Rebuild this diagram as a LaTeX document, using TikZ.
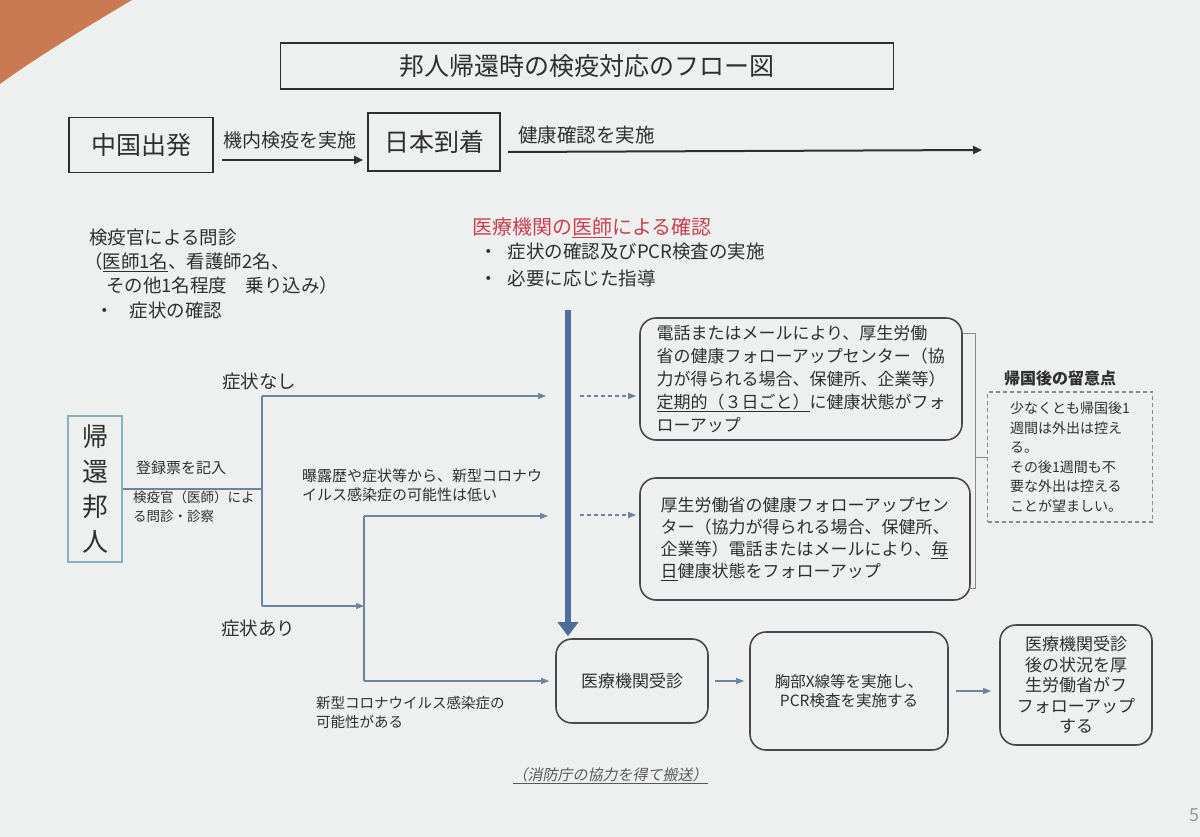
\documentclass[tikz,border=0pt]{standalone}
\usepackage{fontspec}
\setmainfont{Noto Sans CJK JP}
\newfontfamily\slnt[FakeSlant=0.2]{Noto Sans CJK JP}
\usetikzlibrary{arrows.meta}
\definecolor{ink}{HTML}{2F2F2F}
\definecolor{page}{HTML}{EEF0EF}
\definecolor{desk}{HTML}{C97A52}
\definecolor{flow}{HTML}{6E83A0}
\definecolor{barc}{HTML}{4F6E9B}
\definecolor{redt}{HTML}{C8404F}
\definecolor{edgec}{HTML}{4A4650}
\definecolor{tealc}{HTML}{8AB0C0}
\definecolor{brk}{HTML}{8A8A8A}
\newcommand\fz[2]{\fontsize{#1}{#2}\selectfont}
\tikzset{
  sq/.style={draw=ink, line width=1.8pt, inner sep=0, text=ink},
  rbox/.style={draw=edgec, line width=1.6pt, rounded corners=16pt, inner sep=0, text=ink},
  flowln/.style={draw=flow, line width=1.1pt},
  flowar/.style={flowln, -{Triangle[length=8pt,width=6pt]}},
  dflow/.style={flowar, dash pattern=on 4pt off 3pt},
  lbl/.style={text=ink, inner sep=0, anchor=west, align=left},
  bigar/.style={draw=ink, line width=2pt, -{Triangle[length=9pt,width=8pt]}},
}
\begin{document}
\begin{tikzpicture}[x=1pt,y=-1pt]
\useasboundingbox (0,0) rectangle (1200,837);
\fill[page] (0,0) rectangle (1200,837);
\fill[desk] (0,0) -- (132,0) .. controls (90,25) and (40,55) .. (0,84) -- cycle;

% title
\node[sq, minimum width=613, minimum height=46, font={\fz{25}{30}}] (title) at (587,66) {邦人帰還時の検疫対応のフロー図};

% top row
\node[sq, minimum width=144, minimum height=55, font={\fz{25}{30}}] (chugoku) at (141,145) {中国出発};
\node[sq, minimum width=132, minimum height=58, font={\fz{25}{30}}] (nichi) at (434,142) {日本到着};
\coordinate (a1) at (222,160);
\draw[bigar] (a1) -- (a1 -| nichi.west) [shorten >=4pt];
\node[lbl, font={\fz{19}{23}}] (l1) at (223,140) {機内検疫を実施};
\coordinate (a2s) at (508,152);
\coordinate (a2e) at (982,150);
\draw[bigar] (a2s) -- (a2e);
\node[lbl, font={\fz{19.5}{23}}] (l2) at (518,135) {健康確認を実施};

% left text block
\node[lbl, font={\fz{18.5}{23}}] (q1) at (89,238) {検疫官による問診};
\node[lbl, font={\fz{18.5}{23}}] (q2) at (84,262) {（\underline{医師1名}、看護師2名、};
\node[lbl, font={\fz{18.5}{23}}] (q3) at (106,285) {その他1名程度　乗り込み）};
\node[lbl, font={\fz{18.5}{23}}] (q4) at (95,310) {・\hspace{16pt}症状の確認};

% red block
\node[lbl, text=redt, font={\fz{20}{24}}] (r1) at (472,228) {医療機関の\underline{医師}による確認};
\node[lbl, font={\fz{18.5}{23}}] (r2) at (479,252) {・\hspace{10pt}症状の確認及びPCR検査の実施};
\node[lbl, font={\fz{18.5}{23}}] (r3) at (479,278) {・\hspace{10pt}必要に応じた指導};

% returnee box
\node[draw=tealc, line width=1.8pt, minimum width=54, minimum height=146, inner sep=0, align=center, text=ink, font={\fz{26}{35}}] (kikan) at (95,489) {帰\\還\\邦\\人};
\coordinate (j1) at (262,489);
\coordinate (jt) at (262,396);
\coordinate (jb) at (262,606);
\draw[flowln] (kikan.east) -- (j1);
\draw[flowln] (jt) -- (jb);
\node[lbl, font={\fz{15}{19}}] (t1) at (136,468) {登録票を記入};
\node[lbl, anchor=north west, font={\fz{13.5}{19}}] (t2) at (133,491) {検疫官（医師）によ\\る問診・診察};

\coordinate (nt) at (546,396);
\draw[flowar] (jt) -- (nt);
\node[text=ink, inner sep=0, font={\fz{18.5}{22}}] (s1) at (259,381) {症状なし};
\node[text=ink, inner sep=0, font={\fz{18.5}{22}}] (s2) at (258,628) {症状あり};

\coordinate (k1) at (364,606);
\coordinate (kt) at (364,516);
\coordinate (kb) at (364,681);
\draw[flowar] (jb) -- (k1);
\draw[flowln] (kt) -- (kb);
\coordinate (nm) at (548,516);
\draw[flowar] (kt) -- (nm);
\node[lbl, anchor=north west, font={\fz{15}{19}}] (t3) at (302,469) {曝露歴や症状等から、新型コロナウ\\イルス感染症の可能性は低い};
\node[lbl, anchor=north west, font={\fz{14.5}{19}}] (t4) at (316,696) {新型コロナウイルス感染症の\\可能性がある};

% follow-up boxes
\node[rbox, minimum width=322, minimum height=122, align=left, font={\fz{17}{23}}] (fu1) at (801,379) {電話またはメールにより、厚生労働\\省の健康フォローアップセンター（協\\力が得られる場合、保健所、企業等）\\\underline{定期的（３日ごと）}に健康状態がフォ\\ローアップ};
\node[rbox, minimum width=330, minimum height=122, align=left, font={\fz{17}{22}}] (fu2) at (805,539) {厚生労働省の健康フォローアップセン\\ター（協力が得られる場合、保健所、\\企業等）電話またはメールにより、\underline{毎}\\\underline{日}健康状態をフォローアップ};

\coordinate (d1) at (580,396);
\coordinate (d2) at (580,515);
\draw[dflow] (d1) -- (d1 -| fu1.west) [shorten >=3pt];
\draw[dflow] (d2) -- (d2 -| fu2.west) [shorten >=3pt];

% thick blue bar arrow
\node[rbox, minimum width=152, minimum height=84, font={\fz{17}{21}}] (clinic) at (632,681) {医療機関受診};
\coordinate (bt) at (568,310);
\draw[barc, line width=6pt, -{Triangle[length=14pt,width=20pt]}] (bt) -- (bt |- clinic.north) [shorten >=2pt];

\draw[flowar] (kb) -- (clinic.west) [shorten >=6pt];

% bracket and notes
\coordinate (b1) at (963,333);
\coordinate (b2) at (975,333);
\coordinate (b3) at (975,588);
\coordinate (b4) at (969,588);
\coordinate (b5) at (975,457);
\coordinate (b6) at (987,457);
\draw[brk, line width=0.8pt] (b1) -- (b2) -- (b3) -- (b4);
\draw[brk, line width=0.8pt] (b5) -- (b6);
\node[text=ink, inner sep=0, font={\fz{16}{20}\bfseries}] (nh) at (1060,378) {帰国後の留意点};
\node[draw=brk, line width=1.2pt, dash pattern=on 4pt off 3pt, minimum width=165, minimum height=130, inner sep=0, align=left, text=ink, font={\fz{14}{19.5}}] (note) at (1070,457) {少なくとも帰国後1\\週間は外出は控え\\る。\\その後1週間も不\\要な外出は控える\\ことが望ましい。};

% bottom row
\node[rbox, minimum width=198, minimum height=118, align=center, font={\fz{15.5}{19}}] (xray) at (849,691) {胸部X線等を実施し、\\PCR検査を実施する};
\node[rbox, minimum width=152, minimum height=120, align=center, font={\fz{17}{20.5}}] (after) at (1076,685) {医療機関受診\\後の状況を厚\\生労働省がフ\\フォローアップ\\する};
\draw[flowar] (clinic.east) -- (clinic.east -| xray.west) [shorten <=6pt, shorten >=5pt];
\draw[flowar] (xray.east) -- (xray.east -| after.west) [shorten <=7pt, shorten >=8pt];

\node[text=ink!80, inner sep=0, font={\fz{15}{18}\slnt}] (fire) at (610,776) {\underline{（消防庁の協力を得て搬送）}};

\node[text=black!40, inner sep=0, font={\fz{18}{20}}] (pg) at (1194,815) {5};
\end{tikzpicture}
\end{document}
